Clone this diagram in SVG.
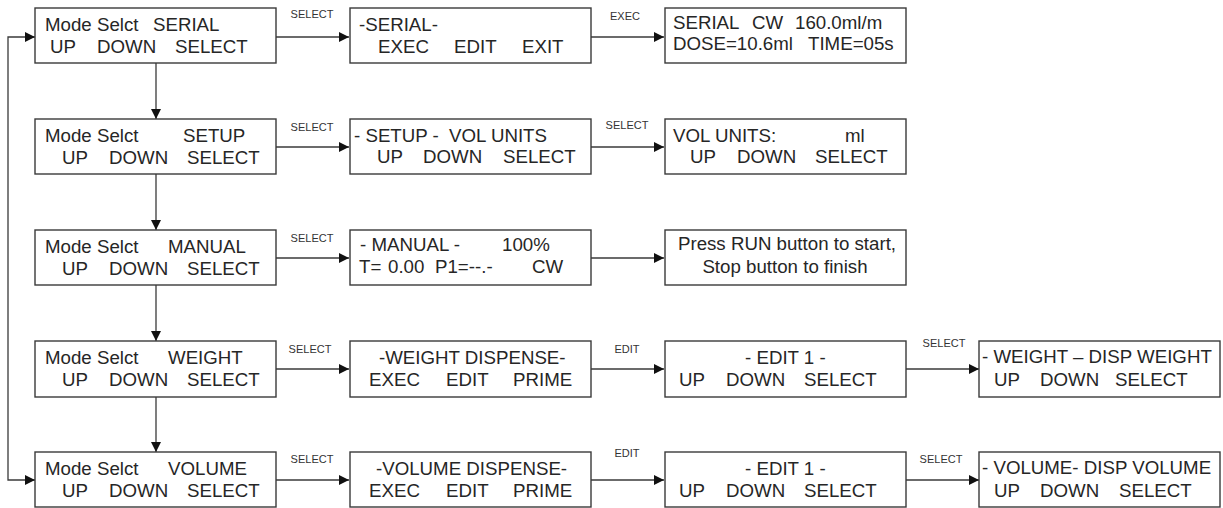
<svg xmlns="http://www.w3.org/2000/svg" width="1223" height="508" viewBox="0 0 1223 508">
<defs>
<style>
.box{fill:#fff;stroke:#3a3a3a;stroke-width:1.4}
.t{font-family:"Liberation Sans",Arial,sans-serif;font-size:18.7px;fill:#262626}
.lb{font-family:"Liberation Sans",Arial,sans-serif;font-size:11px;fill:#333;text-anchor:middle}
.c{fill:none;stroke:#3a3a3a;stroke-width:1.3}
.m{text-anchor:middle}
</style>
<marker id="ah" markerUnits="userSpaceOnUse" markerWidth="11" markerHeight="10" refX="10" refY="5" orient="auto-start-reverse" viewBox="0 0 11 10">
<path d="M0,0 L10,5 L0,10 z" fill="#111"/>
</marker>
</defs>
<rect width="1223" height="508" fill="#fff"/>

<g id="connectors">
<path class="c" d="M35,37 H8 V480 H35" marker-start="url(#ah)" marker-end="url(#ah)"/>
<path class="c" d="M156,63 V119" marker-end="url(#ah)"/>
<path class="c" d="M156,174 V230" marker-end="url(#ah)"/>
<path class="c" d="M156,285 V341" marker-end="url(#ah)"/>
<path class="c" d="M156,397 V452" marker-end="url(#ah)"/>
<path class="c" d="M276,37 H349" marker-end="url(#ah)"/>
<path class="c" d="M276,147 H349" marker-end="url(#ah)"/>
<path class="c" d="M276,258 H349" marker-end="url(#ah)"/>
<path class="c" d="M276,369 H349" marker-end="url(#ah)"/>
<path class="c" d="M276,480 H349" marker-end="url(#ah)"/>
<path class="c" d="M591,37 H664" marker-end="url(#ah)"/>
<path class="c" d="M591,147 H664" marker-end="url(#ah)"/>
<path class="c" d="M591,258 H664" marker-end="url(#ah)"/>
<path class="c" d="M591,369 H664" marker-end="url(#ah)"/>
<path class="c" d="M591,480 H664" marker-end="url(#ah)"/>
<path class="c" d="M906,369 H979" marker-end="url(#ah)"/>
<path class="c" d="M906,480 H979" marker-end="url(#ah)"/>
<text class="lb" x="312" y="18">SELECT</text>
<text class="lb" x="312" y="131">SELECT</text>
<text class="lb" x="312" y="242">SELECT</text>
<text class="lb" x="310" y="353">SELECT</text>
<text class="lb" x="312" y="463">SELECT</text>
<text class="lb" x="625" y="20">EXEC</text>
<text class="lb" x="627" y="129">SELECT</text>
<text class="lb" x="627" y="353">EDIT</text>
<text class="lb" x="627" y="457">EDIT</text>
<text class="lb" x="944" y="347">SELECT</text>
<text class="lb" x="941" y="463">SELECT</text>
</g>

<g id="mode-serial">
<rect class="box" x="35" y="8" width="241" height="55"/>
<text class="t" y="31"><tspan x="45">Mode Selct</tspan><tspan x="153">SERIAL</tspan></text>
<text class="t" y="53"><tspan x="50">UP</tspan><tspan x="97">DOWN</tspan><tspan x="175">SELECT</tspan></text>
</g>
<g id="serial-menu">
<rect class="box" x="350" y="8" width="241" height="55"/>
<text class="t" y="31"><tspan x="359">-SERIAL-</tspan></text>
<text class="t" y="53"><tspan x="378">EXEC</tspan><tspan x="454">EDIT</tspan><tspan x="522">EXIT</tspan></text>
</g>
<g id="serial-run">
<rect class="box" x="665" y="8" width="241" height="55"/>
<text class="t" y="29"><tspan x="673">SERIAL</tspan><tspan x="752">CW</tspan><tspan x="795">160.0ml/m</tspan></text>
<text class="t" y="50"><tspan x="673">DOSE=10.6ml</tspan><tspan x="808">TIME=05s</tspan></text>
</g>

<g id="mode-setup">
<rect class="box" x="35" y="119" width="241" height="55"/>
<text class="t" y="142"><tspan x="45">Mode Selct</tspan><tspan x="183">SETUP</tspan></text>
<text class="t" y="164"><tspan x="62">UP</tspan><tspan x="109">DOWN</tspan><tspan x="187">SELECT</tspan></text>
</g>
<g id="setup-menu">
<rect class="box" x="350" y="119" width="241" height="55"/>
<text class="t" y="142"><tspan x="354">- SETUP -</tspan><tspan x="449">VOL UNITS</tspan></text>
<text class="t" y="163"><tspan x="377">UP</tspan><tspan x="423">DOWN</tspan><tspan x="503">SELECT</tspan></text>
</g>
<g id="vol-units">
<rect class="box" x="665" y="119" width="241" height="55"/>
<text class="t" y="142"><tspan x="673">VOL UNITS:</tspan><tspan x="845">ml</tspan></text>
<text class="t" y="163"><tspan x="690">UP</tspan><tspan x="737">DOWN</tspan><tspan x="815">SELECT</tspan></text>
</g>

<g id="mode-manual">
<rect class="box" x="35" y="230" width="241" height="55"/>
<text class="t" y="253"><tspan x="45">Mode Selct</tspan><tspan x="168">MANUAL</tspan></text>
<text class="t" y="275"><tspan x="62">UP</tspan><tspan x="109">DOWN</tspan><tspan x="187">SELECT</tspan></text>
</g>
<g id="manual-menu">
<rect class="box" x="350" y="230" width="241" height="55"/>
<text class="t" y="251"><tspan x="360">- MANUAL -</tspan><tspan x="502">100%</tspan></text>
<text class="t" y="273"><tspan x="359">T=</tspan><tspan x="388">0.00</tspan><tspan x="435">P1=--.-</tspan><tspan x="532">CW</tspan></text>
</g>
<g id="manual-run">
<rect class="box" x="665" y="230" width="241" height="55"/>
<text class="t m" x="787" y="250">Press RUN button to start,</text>
<text class="t m" x="785" y="273">Stop button to finish</text>
</g>

<g id="mode-weight">
<rect class="box" x="35" y="341" width="241" height="56"/>
<text class="t" y="364"><tspan x="45">Mode Selct</tspan><tspan x="168">WEIGHT</tspan></text>
<text class="t" y="386"><tspan x="62">UP</tspan><tspan x="109">DOWN</tspan><tspan x="187">SELECT</tspan></text>
</g>
<g id="weight-menu">
<rect class="box" x="350" y="341" width="241" height="56"/>
<text class="t" y="364"><tspan x="379">-WEIGHT DISPENSE-</tspan></text>
<text class="t" y="386"><tspan x="369">EXEC</tspan><tspan x="446">EDIT</tspan><tspan x="513">PRIME</tspan></text>
</g>
<g id="weight-edit">
<rect class="box" x="665" y="341" width="241" height="56"/>
<text class="t" y="364"><tspan x="745">- EDIT 1 -</tspan></text>
<text class="t" y="386"><tspan x="679">UP</tspan><tspan x="726">DOWN</tspan><tspan x="804">SELECT</tspan></text>
</g>
<g id="weight-disp">
<rect class="box" x="979" y="341" width="241" height="56"/>
<text class="t" y="363"><tspan x="982">- WEIGHT – DISP WEIGHT</tspan></text>
<text class="t" y="386"><tspan x="994">UP</tspan><tspan x="1040">DOWN</tspan><tspan x="1115">SELECT</tspan></text>
</g>

<g id="mode-volume">
<rect class="box" x="35" y="452" width="241" height="55"/>
<text class="t" y="475"><tspan x="45">Mode Selct</tspan><tspan x="168">VOLUME</tspan></text>
<text class="t" y="497"><tspan x="62">UP</tspan><tspan x="109">DOWN</tspan><tspan x="187">SELECT</tspan></text>
</g>
<g id="volume-menu">
<rect class="box" x="350" y="452" width="241" height="55"/>
<text class="t" y="475"><tspan x="376">-VOLUME DISPENSE-</tspan></text>
<text class="t" y="497"><tspan x="369">EXEC</tspan><tspan x="446">EDIT</tspan><tspan x="513">PRIME</tspan></text>
</g>
<g id="volume-edit">
<rect class="box" x="665" y="452" width="241" height="55"/>
<text class="t" y="475"><tspan x="745">- EDIT 1 -</tspan></text>
<text class="t" y="497"><tspan x="679">UP</tspan><tspan x="726">DOWN</tspan><tspan x="804">SELECT</tspan></text>
</g>
<g id="volume-disp">
<rect class="box" x="979" y="452" width="241" height="55"/>
<text class="t" y="474"><tspan x="982">- VOLUME- DISP VOLUME</tspan></text>
<text class="t" y="497"><tspan x="994">UP</tspan><tspan x="1040">DOWN</tspan><tspan x="1119">SELECT</tspan></text>
</g>
</svg>
